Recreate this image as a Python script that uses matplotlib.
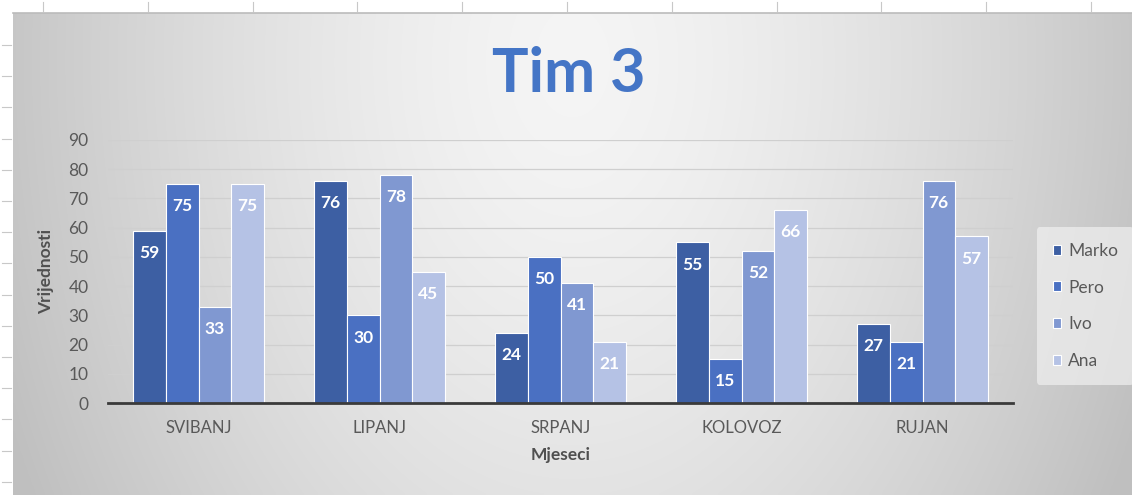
import numpy as np
import matplotlib.pyplot as plt
from matplotlib.lines import Line2D

# podaci
mjeseci = ["SVIBANJ", "LIPANJ", "SRPANJ", "KOLOVOZ", "RUJAN"]
imena = ["Marko", "Pero", "Ivo", "Ana"]
marko = [59, 76, 24, 55, 27]
pero = [75, 30, 50, 15, 21]
ivo = [33, 78, 41, 52, 76]
ana = [75, 45, 21, 66, 57]
y_ticks = [0, 10, 20, 30, 40, 50, 60, 70, 80, 90]

boje = ["#3D5FA3", "#4A70C2", "#8098D1", "#B5C2E5"]
serije = [marko, pero, ivo, ana]

plt.rcParams['font.family'] = ['Lato', 'DejaVu Sans']

W, H = 1132, 495
fig = plt.figure(figsize=(W / 100, H / 100), dpi=100)
fig.patch.set_facecolor("white")

# ===============================
# pozadina grafikona (gradijent)
# ===============================
x0, y0 = 13, 13
bg = fig.add_axes([x0 / W, 0, 1 - x0 / W, 1 - y0 / H])
gx = np.linspace(0, 1, 300)
gy = np.linspace(0, 1, 150)
GX, GY = np.meshgrid(gx, gy)
d = np.sqrt(((GX - 0.5) / 0.5) ** 2 + ((GY - 0.1) / 1.7) ** 2)
val = 0.96 - 0.18 * np.clip(d, 0, 1.1) ** 1.5
img = np.dstack([val, val, val])
bg.imshow(img, aspect='auto', extent=[0, 1, 1, 0], interpolation='bilinear')
bg.set_xlim(0, 1)
bg.set_ylim(1, 0)
bg.axis('off')

# rubovi tablice izvan grafikona
for i in range(11):
    xp = (43 + i * 104.8) / W
    fig.add_artist(Line2D([xp, xp], [1 - 2 / H, 1 - 11 / H], color="#C8C8C8", lw=0.8))
for i in range(15):
    yp = 1 - (45 + i * 31.2) / H
    fig.add_artist(Line2D([2 / W, 11 / W], [yp, yp], color="#C8C8C8", lw=0.8))
fig.add_artist(Line2D([x0 / W, 1], [1 - y0 / H, 1 - y0 / H], color="#BBBBBB", lw=1.2))

# ===============================
# stupci
# ===============================
ax = fig.add_axes([108 / W, 92 / H, 905 / W, 263 / H])
ax.set_facecolor("none")
x = np.arange(len(mjeseci))
sirina = 0.18
for k, (vals, ime, c) in enumerate(zip(serije, imena, boje)):
    pos = x + (k - 1.5) * sirina
    bars = ax.bar(pos, vals, width=sirina, color=c, edgecolor="white", linewidth=0.8,
                  label=ime, zorder=3)
    for b, v in zip(bars, vals):
        ax.annotate(str(v), (b.get_x() + b.get_width() / 2, v), xytext=(0, -16),
                    textcoords="offset points", ha="center", va="center",
                    color="white", fontsize=12.5, fontweight="bold", zorder=4)

ax.set_xlim(-0.5, len(mjeseci) - 0.5)
ax.set_ylim(0, 90)
ax.set_yticks(y_ticks)
ax.set_xticks(x)
ax.set_xticklabels(mjeseci)
ax.grid(axis="y", color="#CFCFCF", linewidth=0.9, zorder=0)
for s in ["top", "right", "left"]:
    ax.spines[s].set_visible(False)
ax.spines["bottom"].set_color("#3A3A3A")
ax.spines["bottom"].set_linewidth(2)
ax.spines["bottom"].set_zorder(5)
ax.tick_params(axis="y", length=0, pad=14, labelsize=12.5, labelcolor="#595959")
ax.tick_params(axis="x", length=0, pad=12, labelsize=12, labelcolor="#595959")

ax.set_ylabel("Vrijednosti", fontsize=12.5, fontweight="bold", color="#505050", labelpad=10)
ax.set_xlabel("Mjeseci", fontsize=12.5, fontweight="bold", color="#505050", labelpad=8)

fig.text(569 / W, 1 - 74 / H, "Tim 3", ha="center", va="center", fontsize=44,
         fontweight="bold", color="#4475C6")

leg = ax.legend(loc="center left", bbox_to_anchor=(1037 / W, 1 - 306 / H),
                bbox_transform=fig.transFigure, frameon=True, borderaxespad=0,
                fontsize=12.5, handlelength=0.5, handleheight=0.5,
                handletextpad=0.4, labelspacing=1.2, borderpad=0.9)
leg.get_frame().set_facecolor("#F0F0F0")
leg.get_frame().set_edgecolor("none")
leg.get_frame().set_alpha(0.7)
for t in leg.get_texts():
    t.set_color("#595959")

fig.savefig("out.png", dpi=100)
